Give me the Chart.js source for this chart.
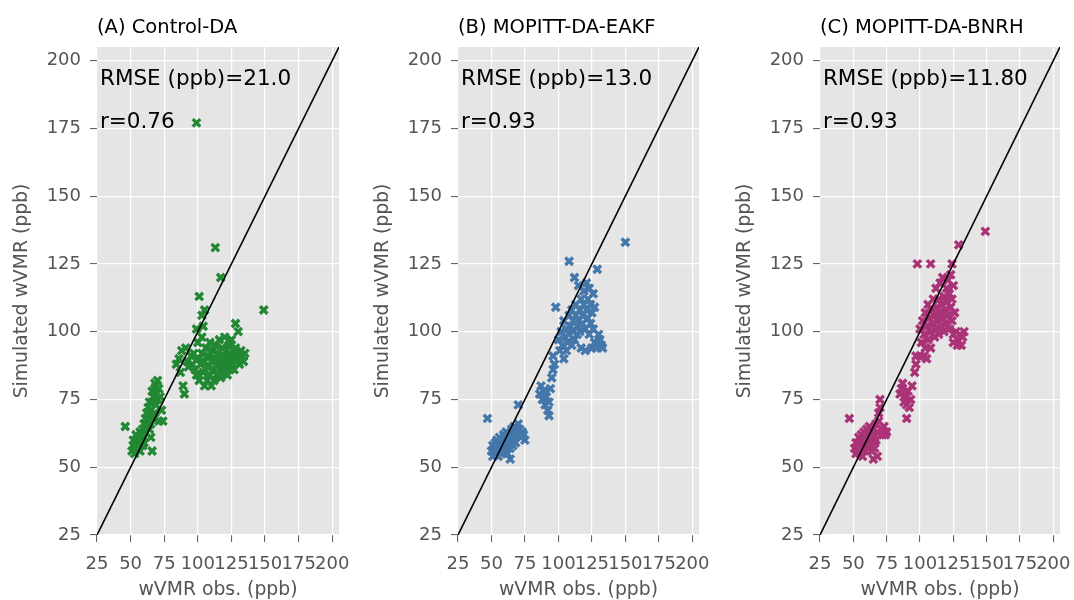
<!DOCTYPE html>
<html><head><meta charset="utf-8">
<script src="https://cdn.jsdelivr.net/npm/chart.js@4"></script>
<style>
body{margin:0;background:#fff;width:1074px;height:600px;position:relative;overflow:hidden}
canvas{position:absolute;top:0}
</style></head><body>
<canvas id="cA" width="363" height="600" style="left:0px"></canvas>
<canvas id="cB" width="362" height="600" style="left:361px"></canvas>
<canvas id="cC" width="361" height="600" style="left:723px"></canvas>
<script>
// ---- data (obs, simulated) ----
const axisMin = 25, axisMax = 205;
const tickValues = [25, 50, 75, 100, 125, 150, 175, 200];
const panelTitles = ['(A) Control-DA', '(B) MOPITT-DA-EAKF', '(C) MOPITT-DA-BNRH'];
const rmseTexts = ['RMSE (ppb)=21.0', 'RMSE (ppb)=13.0', 'RMSE (ppb)=11.80'];
const rTexts = ['r=0.76', 'r=0.93', 'r=0.93'];
const colors = ['#228833', '#4477AA', '#AA3377'];

const controlDA = [
[46,65],[51,56],[52,58],[52,60],[53,57],[54,59],[54,62],[55,58],[55,60],[56,61],[57,59],[57,63],[58,60],[58,62],[59,64],[59,58],[60,61],[60,66],[61,63],[61,68],[62,65],[62,70],[63,67],[63,72],[64,64],[64,69],[65,71],[65,66],[66,56],[66,74],[67,68],[67,76],[68,70],[68,78],[69,73],[69,80],[70,75],[70,82],[71,79],[71,67],[72,76],[73,71],[74,67],[63,70],[64,74],[66,78],[68,81],[69,77],[65,61],[60,59],[57,56],[53,55],
[84,88],[86,90],[87,85],[88,93],[89,80],[90,77],[91,94],[92,89],[93,87],[95,91],[96,88],[97,92],[98,86],[99,84],[100,90],[100,96],[101,82],[102,88],[103,92],[103,98],[104,85],[105,80],[105,89],[106,94],[107,87],[107,82],[108,91],[109,84],[109,96],[110,89],[110,80],[111,93],[112,86],[112,82],[113,90],[113,95],[114,84],[115,88],[115,92],[116,86],[116,97],[117,83],[117,90],[118,88],[118,94],[119,85],[119,91],[120,87],[120,98],[121,89],[121,93],[122,84],[122,91],[123,88],[123,95],[124,86],[124,92],[125,90],[125,97],[126,88],[126,93],[127,91],[127,86],[128,94],[128,89],[129,92],[130,90],[130,100],[131,88],[132,93],[133,91],[134,89],[135,92],[128,103],[99,101],[104,102],[103,106],[105,108],[101,113],[113,131],[117,120],[149,108],[99,177]
];
const eakfDA = [
[47,68],[50,56],[51,54],[51,58],[52,57],[53,55],[53,59],[54,56],[54,60],[55,54],[55,58],[56,57],[56,61],[57,55],[57,59],[58,56],[58,60],[59,58],[59,62],[60,57],[60,61],[61,59],[61,63],[62,55],[62,60],[63,58],[63,62],[64,53],[64,57],[65,60],[65,64],[66,58],[66,62],[67,61],[67,65],[68,59],[68,63],[69,62],[70,66],[70,73],[71,64],[72,61],[73,63],[74,62],[75,60],
[86,77],[87,80],[88,75],[89,78],[90,73],[91,76],[92,71],[93,74],[93,69],[94,79],[95,83],[96,86],[97,88],[96,91],
[98,109],[100,97],[101,93],[102,100],[103,95],[104,104],[104,90],[105,98],[106,101],[106,93],[107,96],[108,106],[108,126],[108,99],[109,102],[110,95],[110,108],[111,100],[111,104],[112,120],[112,97],[113,106],[113,110],[114,102],[114,99],[115,117],[115,104],[116,108],[116,100],[117,112],[117,94],[118,106],[118,103],[119,115],[119,110],[120,101],[120,93],[121,108],[121,118],[122,105],[122,112],[123,99],[123,116],[124,103],[124,110],[125,107],[125,94],[126,114],[126,101],[127,96],[127,109],[128,94],[129,123],[130,99],[131,97],[132,95],[133,94],[130,96],[150,133]
];
const bnrhDA = [
[47,68],[51,57],[52,55],[52,59],[53,56],[54,58],[54,61],[55,55],[55,59],[56,57],[56,62],[57,54],[57,60],[58,58],[58,63],[59,56],[59,61],[60,59],[60,64],[61,57],[61,62],[62,60],[62,65],[63,58],[63,63],[64,56],[64,61],[65,53],[65,64],[66,59],[66,62],[67,66],[67,60],[68,63],[69,70],[69,67],[70,75],[70,72],[71,64],[72,62],[73,65],[74,62],[75,63],[66,57],[68,54],
[85,77],[86,79],[87,81],[88,74],[89,76],[90,68],[90,73],[91,78],[92,72],[93,75],[94,80],[96,85],[97,88],[97,91],[100,91],[103,91],[105,90],
[98,125],[108,125],[124,125],[129,132],[149,137],[100,101],[101,96],[102,104],[103,99],[104,94],[104,107],[105,102],[106,97],[106,110],[107,105],[108,100],[108,94],[109,108],[110,103],[110,112],[111,98],[111,106],[112,101],[112,116],[113,109],[113,104],[114,99],[114,112],[115,107],[115,118],[116,102],[116,110],[117,105],[117,120],[118,100],[118,113],[119,108],[119,103],[120,116],[120,111],[121,106],[121,119],[122,101],[122,114],[123,109],[123,121],[124,104],[124,112],[125,117],[125,99],[126,107],[127,100],[128,97],[130,99],[131,95],[132,98],[128,95],[133,100],[125,96]
];
const allData = [controlDA, eakfDA, bnrhDA];
const canvasIds = ['cA', 'cB', 'cC'];
const padRights = [24, 24, 24];

const FONT = "'DejaVu Sans', sans-serif";

const panelDecor = {
  id: 'panelDecor',
  beforeDraw(chart) {
    const {ctx, chartArea: a} = chart;
    ctx.save();
    ctx.fillStyle = '#E5E5E5';
    ctx.fillRect(a.left, a.top, a.right - a.left, a.bottom - a.top);
    ctx.restore();
  },
  afterDraw(chart, args, opts) {
    const {ctx, chartArea: a, scales} = chart;
    ctx.save();
    ctx.fillStyle = '#000';
    ctx.textAlign = 'left';
    ctx.textBaseline = 'alphabetic';
    ctx.font = '19.5px ' + FONT;
    ctx.fillText(opts.title, a.left, 33);
    ctx.font = '21.5px ' + FONT;
    const tx = scales.x.getPixelForValue(27.2);
    ctx.fillText(opts.rmse, tx, scales.y.getPixelForValue(191));
    ctx.fillText(opts.r, tx, scales.y.getPixelForValue(175));
    ctx.restore();
  }
};

function axisCfg(isX, title) {
  return {
    type: 'linear',
    min: axisMin, max: axisMax,
    afterBuildTicks: s => { s.ticks = tickValues.map(v => ({value: v})); },
    afterFit: s => { if (isX) s.height = 65; else s.width = 97; },
    grid: { color: '#FFFFFF', lineWidth: 1.2, tickColor: '#555555', tickLength: 7, tickWidth: 1 },
    border: { display: false },
    ticks: { color: '#555555', font: { family: FONT, size: 18 }, padding: isX ? 12 : 9,
             autoSkip: false, maxRotation: 0, minRotation: 0, callback: v => String(v) },
    title: { display: true, text: title, color: '#555555', font: { family: FONT, size: 18.8, lineHeight: 1 },
             padding: isX ? {top: 0, bottom: 0} : {top: 13, bottom: 0} }
  };
}

allData.forEach((pts, i) => {
  new Chart(document.getElementById(canvasIds[i]), {
    type: 'scatter',
    data: {
      datasets: [
        { data: [{x: axisMin, y: axisMin}, {x: axisMax, y: axisMax}], showLine: true, borderColor: '#000', borderWidth: 1.6, pointRadius: 0 },
        { data: pts.map(p => ({x: p[0], y: p[1]})), pointStyle: 'crossRot', pointRadius: 5.3, borderWidth: 3.4,
          borderColor: colors[i], backgroundColor: colors[i] }
      ]
    },
    options: {
      responsive: false, animation: false,
      layout: { padding: { top: 47, left: 0, bottom: 0, right: padRights[i] } },
      plugins: { legend: { display: false }, tooltip: { enabled: false },
                 panelDecor: { title: panelTitles[i], rmse: rmseTexts[i], r: rTexts[i] } },
      scales: { x: axisCfg(true, 'wVMR obs. (ppb)'), y: axisCfg(false, 'Simulated wVMR (ppb)') }
    },
    plugins: [panelDecor]
  });
});
</script>
</body></html>
